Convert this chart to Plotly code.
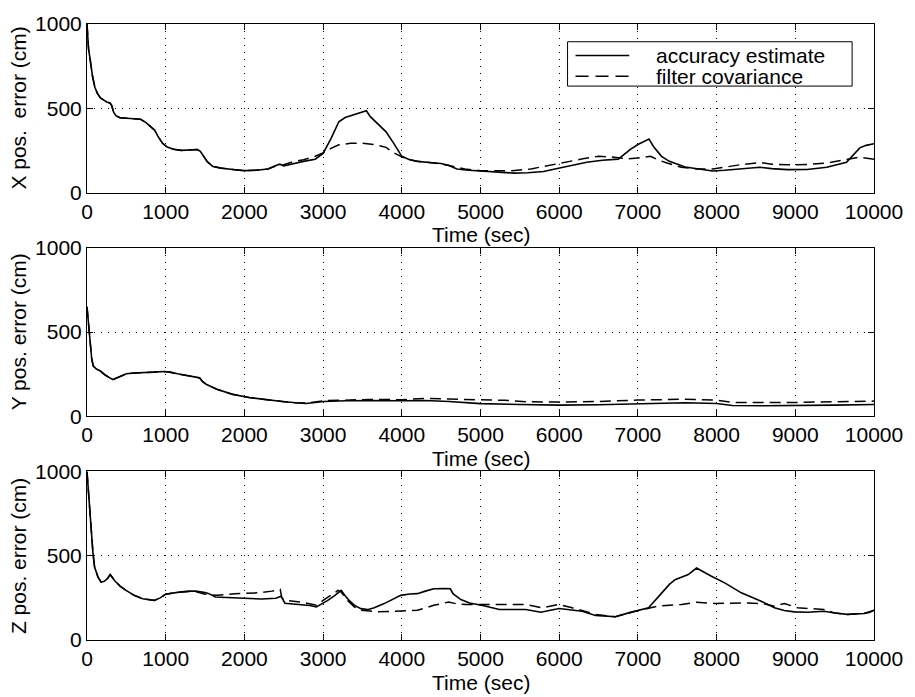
import plotly.graph_objects as go

# ---------------- data ----------------
x_acc_t = [0, 20, 40, 70, 100, 130, 170, 210, 250, 290, 310, 340, 370, 420, 500, 600, 680, 750, 820, 860,
           900, 960, 1020, 1100, 1200, 1300, 1400, 1440, 1480, 1530, 1600, 1700, 1850, 2000, 2150, 2300, 2400,
           2450, 2500, 2600, 2750, 2900, 3000, 3100, 3200, 3280, 3400, 3500, 3550, 3600, 3700, 3800, 3900,
           4000, 4100, 4200, 4350, 4500, 4600, 4700, 4850, 5000, 5200, 5430, 5600, 5800, 6050, 6350, 6550,
           6750, 6900, 7000, 7140, 7200, 7300, 7400, 7600, 7800, 7950, 8100, 8300, 8550, 8700, 8900, 9150,
           9400, 9650, 9750, 9820, 9900, 10000]
x_acc_v = [1000, 850, 790, 690, 625, 590, 562, 547, 537, 532, 520, 475, 455, 444, 442, 440, 435, 415, 385, 370,
           335, 292, 270, 257, 250, 252, 255, 245, 215, 182, 155, 145, 137, 130, 132, 140, 160,
           168, 158, 170, 185, 198, 232, 320, 420, 445, 462, 480, 485, 450, 405, 360, 290,
           215, 195, 185, 178, 172, 160, 140, 132, 128, 120, 115, 117, 125, 150, 180, 192,
           198, 255, 285, 318, 272, 215, 185, 152, 137, 128, 132, 142, 150, 142, 136, 137,
           150, 180, 230, 265, 280, 290]

x_cov_t = [0, 20, 40, 70, 100, 130, 170, 210, 250, 290, 310, 340, 370, 420, 500, 600, 680, 750, 820, 860,
           900, 960, 1020, 1100, 1200, 1300, 1400, 1440, 1480, 1530, 1600, 1700, 1850, 2000, 2150, 2300, 2400,
           2500, 2600, 2750, 2900, 3000, 3100, 3200, 3350, 3500, 3650, 3800, 3900, 4000, 4100, 4200, 4350,
           4500, 4600, 4800, 5000, 5200, 5400, 5640, 5850, 6065, 6300, 6500, 6700, 6850, 7000, 7160, 7250,
           7370, 7550, 7750, 7950, 8100, 8300, 8550, 8700, 8900, 9150, 9400, 9650, 9810, 10000]
x_cov_v = [1000, 850, 790, 690, 625, 590, 562, 547, 537, 532, 520, 475, 455, 444, 442, 440, 435, 415, 385, 370,
           335, 292, 270, 257, 250, 252, 255, 245, 215, 182, 155, 145, 137, 130, 132, 140, 158,
           165, 180, 195, 215, 235, 262, 283, 292, 292, 285, 268, 235, 212, 195, 185, 178,
           170, 160, 140, 130, 128, 130, 140, 160, 180, 200, 215, 210, 200, 205, 215, 195,
           175, 150, 140, 140, 150, 165, 178, 168, 165, 166, 175, 195, 210, 198]

y_acc_t = [0, 20, 40, 60, 80, 120, 165, 230, 290, 330, 400, 500, 600, 720, 850, 965, 1050, 1150, 1250, 1430,
           1470, 1520, 1650, 1850, 2060, 2300, 2480, 2650, 2780, 2900, 3000, 3300, 3600, 4000, 4300, 4600,
           5000, 5500, 6000, 6500, 7000, 7600, 8000, 8200, 8600, 9000, 9500, 10000]
y_acc_v = [650, 560, 430, 340, 298, 280, 270, 245, 228, 218, 232, 252, 257, 258, 262, 266, 262, 252, 243, 228,
           205, 188, 160, 130, 111, 96, 88, 80, 76, 82, 88, 92, 94, 92, 94, 88,
           75, 70, 66, 68, 72, 80, 76, 64, 62, 63, 66, 70]

y_cov_t = [0, 20, 40, 60, 80, 120, 165, 230, 290, 330, 400, 500, 600, 720, 850, 965, 1050, 1150, 1250, 1430,
           1470, 1520, 1650, 1850, 2060, 2300, 2480, 2650, 2800, 3000, 3300, 3600, 4000, 4300, 4600,
           5000, 5300, 5600, 6000, 6500, 7000, 7600, 8000, 8200, 8600, 9000, 9500, 10000]
y_cov_v = [650, 560, 430, 340, 298, 280, 270, 245, 228, 218, 232, 252, 257, 258, 262, 266, 262, 252, 243, 228,
           205, 188, 160, 130, 111, 96, 88, 80, 78, 92, 98, 100, 98, 106, 102,
           100, 95, 86, 84, 88, 96, 101, 96, 82, 80, 82, 86, 90]

z_acc_t = [0, 30, 55, 75, 97, 120, 140, 180, 220, 260, 295, 320, 350, 420, 496, 600, 706, 855, 930, 1000,
           1100, 1170, 1300, 1380, 1500, 1550, 1630, 1750, 1880, 2050, 2220, 2400, 2465, 2515, 2600, 2725,
           2830, 2915, 3000, 3060, 3150, 3230, 3280, 3330, 3400, 3480, 3565, 3650, 3776, 3880, 3986, 4100,
           4197, 4300, 4407, 4550, 4617, 4650, 4693, 4750, 4861, 5029, 5240, 5577, 5766, 5998, 6293, 6461,
           6714, 6882, 7135, 7220, 7303, 7400, 7472, 7560, 7640, 7745, 7850, 7935, 8103, 8200, 8314, 8440,
           8566, 8735, 8860, 8987, 9156, 9366, 9500, 9661, 9872, 9950, 10000]
z_acc_v = [1000, 800, 627, 520, 431, 395, 373, 343, 348, 365, 388, 372, 353, 320, 294, 265, 245, 235, 250, 272,
           280, 284, 290, 290, 282, 275, 255, 253, 251, 247, 243, 248, 260, 218, 214, 212,
           205, 196, 218, 235, 265, 294, 262, 235, 205, 186, 180, 192, 216, 242, 265, 273,
           275, 290, 304, 306, 304, 275, 260, 240, 220, 205, 181, 181, 165, 187, 171, 146,
           138, 161, 191, 235, 280, 330, 358, 375, 388, 427, 398, 378, 339, 310, 280, 255,
           230, 191, 175, 167, 165, 171, 160, 152, 157, 165, 177]

z_cov_t = [0, 30, 55, 75, 97, 120, 140, 180, 220, 260, 295, 320, 350, 420, 496, 600, 706, 855, 930, 1000,
           1100, 1300, 1400, 1500, 1650, 1880, 2180, 2350, 2455, 2475, 2515, 2725, 2915, 3000, 3100, 3190,
           3230, 3300, 3400, 3480, 3690, 3986, 4197, 4407, 4596, 4693, 4819, 5240, 5577, 5787, 5998, 6166,
           6461, 6714, 6966, 7261, 7556, 7745, 7977, 8398, 8600, 8735, 8861, 9029, 9366, 9493, 9661, 9872,
           10000]
z_cov_v = [1000, 800, 627, 520, 431, 395, 373, 343, 348, 365, 388, 372, 353, 320, 294, 265, 245, 235, 250, 272,
           280, 288, 285, 272, 265, 275, 280, 290, 300, 250, 235, 225, 206, 235, 265, 294,
           285, 240, 195, 176, 167, 173, 176, 206, 225, 215, 211, 211, 211, 191, 211, 191,
           152, 138, 171, 201, 211, 224, 217, 220, 215, 201, 217, 191, 181, 161, 152, 157,
           177]

x_ticks = [0, 1000, 2000, 3000, 4000, 5000, 6000, 7000, 8000, 9000, 10000]
y_ticks = [0, 500, 1000]
panel_titles = ["X pos.\u00a0 error (cm)", "Y pos. error (cm)", "Z pos. error (cm)"]
x_title = "Time (sec)"
series_names = ["accuracy estimate", "filter covariance"]

# ---------------- figure ----------------
FONT = "Liberation Sans, Arial, Helvetica, sans-serif"
FS = 21
DASH = "11px,6px"
fig = go.Figure()

panels = [(x_acc_t, x_acc_v, x_cov_t, x_cov_v),
          (y_acc_t, y_acc_v, y_cov_t, y_cov_v),
          (z_acc_t, z_acc_v, z_cov_t, z_cov_v)]

for i, (at, av, ct, cv) in enumerate(panels):
    xa = "x" if i == 0 else f"x{i+1}"
    ya = "y" if i == 0 else f"y{i+1}"
    fig.add_trace(go.Scatter(x=at, y=av, mode="lines", name=series_names[0], xaxis=xa, yaxis=ya,
                             line=dict(color="black", width=1.6), showlegend=False))
    fig.add_trace(go.Scatter(x=ct, y=cv, mode="lines", name=series_names[1], xaxis=xa, yaxis=ya,
                             line=dict(color="black", width=1.5, dash=DASH), showlegend=False))

H_PLOT = 625.0
panel_h = 171.0
gap = 56.0
domains = [
    [1 - panel_h / H_PLOT, 1.0],
    [1 - (2 * panel_h + gap) / H_PLOT, 1 - (panel_h + gap) / H_PLOT],
    [0.0, panel_h / H_PLOT],
]

axis_common = dict(showline=True, linecolor="black", linewidth=1, mirror="ticks",
                   ticks="inside", ticklen=6, tickcolor="black", tickwidth=1,
                   showgrid=True, gridcolor="black", gridwidth=1, griddash="1px,6px",
                   zeroline=False, tickfont=dict(family=FONT, size=FS, color="black"))

layout_axes = {}
for i in range(3):
    xk = "xaxis" if i == 0 else f"xaxis{i+1}"
    yk = "yaxis" if i == 0 else f"yaxis{i+1}"
    ya = "y" if i == 0 else f"y{i+1}"
    xa = "x" if i == 0 else f"x{i+1}"
    layout_axes[xk] = dict(axis_common, domain=[0, 1], range=[0, 10000], tickmode="array",
                           tickvals=x_ticks, ticktext=[str(v) for v in x_ticks], anchor=ya)
    layout_axes[yk] = dict(axis_common, domain=domains[i], range=[0, 1000], tickmode="array",
                           tickvals=y_ticks, ticktext=[str(v) for v in y_ticks], anchor=xa)
fig.update_layout(**layout_axes)

annotations = []
for i in range(3):
    xa = "x" if i == 0 else f"x{i+1}"
    ya = "y" if i == 0 else f"y{i+1}"
    annotations.append(dict(text=x_title, xref=f"{xa} domain", yref=f"{ya} domain",
                            x=0.5, y=-43 / panel_h, xanchor="center", yanchor="middle",
                            showarrow=False, font=dict(family=FONT, size=FS, color="black")))
    annotations.append(dict(text=panel_titles[i], xref="paper", yref=f"{ya} domain",
                            x=(18 - 87) / 791.0, y=0.5, xanchor="center", yanchor="middle",
                            textangle=-90, showarrow=False,
                            font=dict(family=FONT, size=FS, color="black")))

# legend box (top panel), positioned in the top panel's domain coordinates
def dx(px):
    return (px - 87) / 791.0

def dy(py):
    return (186 - py) / panel_h

shapes = [
    dict(type="rect", xref="x domain", yref="y domain", x0=dx(570), x1=dx(856), y0=dy(78), y1=dy(33),
         line=dict(color="black", width=1), fillcolor="white", layer="above"),
    dict(type="line", xref="x domain", yref="y domain", x0=dx(578), x1=dx(632), y0=dy(47), y1=dy(47),
         line=dict(color="black", width=1.6), layer="above"),
    dict(type="line", xref="x domain", yref="y domain", x0=dx(578), x1=dx(632), y0=dy(68), y1=dy(68),
         line=dict(color="black", width=1.5, dash="13px,7px"), layer="above"),
]
for name, py in zip(series_names, [47, 68]):
    annotations.append(dict(text=name, xref="x domain", yref="y domain", x=dx(657), y=dy(py),
                            xanchor="left", yanchor="middle", showarrow=False,
                            font=dict(family=FONT, size=FS, color="black")))

fig.update_layout(
    width=915, height=697,
    margin=dict(l=87, r=37, t=15, b=57),
    paper_bgcolor="white", plot_bgcolor="white",
    font=dict(family=FONT, size=FS, color="black"),
    annotations=annotations,
    shapes=shapes,
    showlegend=False,
)

fig.write_html("out.html")
